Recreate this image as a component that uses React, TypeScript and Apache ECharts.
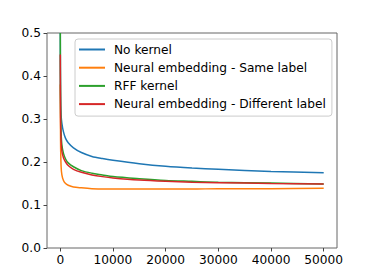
import React, { useEffect, useRef } from "react";
import * as echarts from "echarts";

const xSteps = [0, 50, 150, 300, 600, 1000, 1500, 2500, 4000, 6000, 8000, 10000, 15000, 20000, 25000, 30000, 40000, 50000];
const noKernel = [0.5, 0.36, 0.31, 0.29, 0.27, 0.255, 0.245, 0.233, 0.222, 0.213, 0.208, 0.204, 0.196, 0.19, 0.186, 0.183, 0.178, 0.175];
const neuralSame = [0.38, 0.25, 0.19, 0.17, 0.157, 0.15, 0.146, 0.142, 0.14, 0.138, 0.137, 0.137, 0.137, 0.137, 0.137, 0.138, 0.138, 0.139];
const rffKernel = [0.5, 0.33, 0.27, 0.24, 0.22, 0.207, 0.198, 0.189, 0.18, 0.174, 0.17, 0.166, 0.161, 0.157, 0.155, 0.153, 0.151, 0.149];
const neuralDiff = [0.45, 0.3, 0.25, 0.225, 0.21, 0.2, 0.192, 0.183, 0.176, 0.17, 0.166, 0.163, 0.158, 0.155, 0.153, 0.152, 0.15, 0.149];
const seriesNames = ["No kernel", "Neural embedding - Same label", "RFF kernel", "Neural embedding - Different label"];
const xTicks = [0, 10000, 20000, 30000, 40000, 50000];

const colors = ["#1f77b4", "#ff7f0e", "#2ca02c", "#d62728"];
const FONT = "DejaVu Sans";

export default function App() {
  const ref = useRef<HTMLDivElement>(null);
  useEffect(() => {
    if (!ref.current) return;
    const chart = echarts.init(ref.current, undefined, { renderer: "svg" });
    const all = [noKernel, neuralSame, rffKernel, neuralDiff];
    chart.setOption({
      animation: false,
      color: colors,
      grid: {
        left: 47,
        top: 33,
        right: 37,
        bottom: 32,
        show: true,
        borderColor: "#666",
        borderWidth: 1,
        backgroundColor: "transparent",
      },
      legend: {
        orient: "vertical",
        left: 75,
        top: 39,
        padding: [3.5, 6, 5, 4],
        itemGap: 4.2,
        itemWidth: 26,
        itemHeight: 2,
        icon: "rect",
        backgroundColor: "#fff",
        borderColor: "#ccc",
        borderWidth: 1,
        borderRadius: 3,
        textStyle: { fontFamily: FONT, fontSize: 12.2, color: "#000", lineHeight: 14, padding: [0, 0, 0, 4] },
        data: seriesNames,
      },
      xAxis: {
        type: "value",
        min: -2525,
        max: 52525,
        splitLine: { show: false },
        axisLine: { show: false, onZero: false },
        axisTick: { show: true, length: 3.5, lineStyle: { color: "#444" }, customValues: xTicks },
        axisLabel: {
          fontFamily: FONT,
          fontSize: 12.2,
          color: "#000",
          margin: 6,
          customValues: xTicks,
          formatter: (v: number) => String(v),
        },
      },
      yAxis: {
        type: "value",
        min: 0,
        max: 0.5,
        interval: 0.1,
        splitLine: { show: false },
        axisLine: { show: false, onZero: false },
        axisTick: { show: true, length: 3.5, lineStyle: { color: "#444" } },
        axisLabel: {
          fontFamily: FONT,
          fontSize: 12.2,
          color: "#000",
          margin: 6,
          formatter: (v: number) => v.toFixed(1),
        },
      },
      series: seriesNames.map((name, i) => ({
        name,
        type: "line",
        data: xSteps.map((x, j) => [x, all[i][j]]),
        smooth: 0.3,
        showSymbol: false,
        symbol: "none",
        clip: true,
        lineStyle: { width: 1.5, color: colors[i] },
        itemStyle: { color: colors[i] },
      })),
    });
    return () => chart.dispose();
  }, []);
  return <div ref={ref} style={{ width: 374, height: 280, position: "absolute", left: 0, top: 0 }} />;
}
